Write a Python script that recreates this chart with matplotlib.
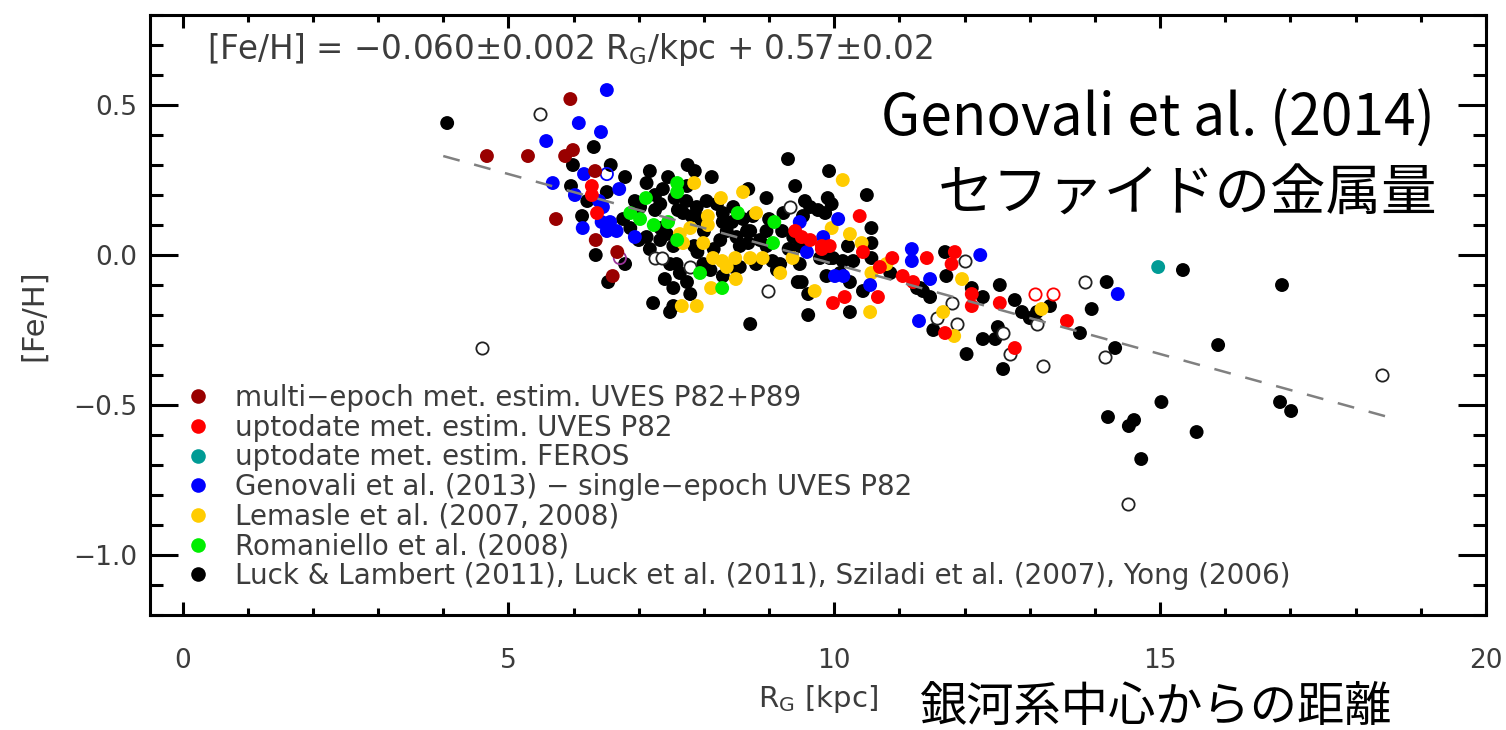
import matplotlib
matplotlib.use("Agg")
import matplotlib.pyplot as plt
from matplotlib.lines import Line2D

# --- data (R_G in kpc, [Fe/H] in dex) ---
maroon_x = [5.95, 4.67, 5.30, 5.87, 5.99, 6.33, 5.73, 6.34, 6.67, 6.60]
maroon_y = [0.52, 0.33, 0.33, 0.33, 0.35, 0.28, 0.12, 0.05, 0.01, -0.07]

red_x = [6.28, 6.28, 6.36, 10.39, 9.40, 9.50, 9.63, 9.81, 9.93, 9.81, 10.44, 10.89, 10.70, 11.05,
         11.21, 11.42, 11.85, 11.80, 10.67, 10.16, 9.98, 12.11, 12.11, 12.54, 11.70, 13.57, 12.77]
red_y = [0.23, 0.20, 0.14, 0.13, 0.08, 0.06, 0.05, 0.03, 0.03, 0.02, 0.01, -0.01, -0.04, -0.07,
         -0.09, -0.01, 0.01, -0.03, -0.14, -0.14, -0.16, -0.13, -0.17, -0.16, -0.26, -0.22, -0.31]
red_open_x = [13.08, 13.36]
red_open_y = [-0.13, -0.13]

teal_x = [14.97]
teal_y = [-0.04]

blue_x = [6.51, 6.08, 6.42, 5.58, 6.16, 5.68, 6.70, 6.02, 6.39, 6.45, 6.43, 6.56, 6.66, 6.51, 6.94,
          6.14, 9.47, 10.06, 9.83, 9.58, 10.01, 10.14, 10.55, 11.19, 11.19, 11.47, 12.24, 14.35, 11.30]
blue_y = [0.55, 0.44, 0.41, 0.38, 0.27, 0.24, 0.22, 0.20, 0.18, 0.16, 0.11, 0.11, 0.08, 0.08, 0.06,
          0.09, 0.11, 0.12, 0.06, 0.01, -0.07, -0.07, -0.10, 0.02, -0.02, -0.08, 0.00, -0.13, -0.22]
blue_open_x = [6.51]
blue_open_y = [0.27]

green_x = [6.87, 7.11, 7.02, 7.23, 7.45, 7.59, 7.59, 8.52, 9.08, 9.06, 7.94, 8.28, 7.59]
green_y = [0.14, 0.19, 0.12, 0.10, 0.11, 0.24, 0.21, 0.14, 0.11, 0.04, -0.06, -0.11, 0.05]

yellow_x = [7.85, 8.26, 8.60, 8.80, 8.06, 8.06, 7.63, 7.79, 7.99, 7.68, 8.14, 8.28, 8.35, 8.48,
            8.71, 8.90, 9.17, 9.36, 8.49, 8.11, 7.66, 7.89, 10.13, 9.96, 10.24, 10.42, 10.55, 9.70,
            11.96, 11.67, 11.84, 13.18, 10.57, 10.80]
yellow_y = [0.24, 0.19, 0.21, 0.14, 0.13, 0.10, 0.07, 0.09, 0.04, 0.04, -0.01, -0.02, -0.04, -0.01,
            -0.01, -0.01, -0.06, -0.01, -0.08, -0.11, -0.17, -0.17, 0.25, 0.09, 0.07, 0.04, -0.19, -0.12,
            -0.08, -0.19, -0.27, -0.18, -0.06, -0.03]

black_x = [4.06, 6.31, 5.99, 6.57, 6.79, 5.96, 6.51, 6.21, 6.13, 6.34, 6.79, 6.53,
           7.17, 7.12, 7.45, 7.75, 7.86, 8.12, 7.74, 7.37, 7.33, 7.25, 6.94, 7.73, 7.89, 7.68,
           7.81, 7.33, 7.12, 7.33, 7.43, 7.53, 6.87, 6.76, 7.17, 7.58, 7.63, 7.74, 7.53, 7.79,
           7.22, 7.48, 7.53, 7.99, 8.29, 8.71, 8.25, 8.35, 8.50, 8.66, 8.68, 8.86, 8.96, 8.55,
           8.96, 8.68, 9.29, 9.40, 9.17, 9.44, 8.29, 8.04, 8.29, 8.43, 8.71, 9.22, 9.20, 9.86,
           9.98, 9.78, 9.47, 8.96, 8.55, 8.45, 7.48, 9.12, 7.02, 7.55, 8.00, 8.15, 7.90, 8.60,
           9.00, 9.05, 7.60, 7.95, 8.20, 8.45, 8.75, 7.25, 7.00, 7.85, 8.10, 8.80, 9.30, 9.55,
           7.40,
           9.92, 10.50, 9.90, 9.96, 9.63, 9.75, 10.57, 10.57, 9.52, 9.37, 9.47, 9.93, 10.13,
           10.21, 10.29, 10.57, 10.09, 10.24, 9.88, 9.50, 9.60, 10.24, 9.60, 10.44, 11.36, 11.47,
           11.70, 11.72, 12.11, 12.28, 12.54, 12.77, 12.88, 13.00, 13.31, 13.77, 12.51, 12.28,
           12.47, 11.52, 12.03, 13.95, 14.18, 14.31, 13.11, 12.59, 10.86, 11.27, 11.32,
           15.35, 16.87, 15.89, 15.02, 14.20, 14.52, 14.60, 15.56, 14.71, 16.84, 17.01]
black_y = [0.44, 0.36, 0.30, 0.30, 0.26, 0.23, 0.21, 0.18, 0.13, 0.00, -0.03, -0.09,
           0.28, 0.24, 0.26, 0.30, 0.28, 0.26, 0.23, 0.22, 0.17, 0.15, 0.18, 0.18, 0.16, 0.14,
           0.13, 0.09, 0.06, 0.05, 0.07, 0.03, 0.09, 0.12, 0.02, -0.03, -0.06, -0.09, -0.11, -0.13,
           -0.16, -0.19, -0.17, -0.03, -0.07, -0.23, 0.05, 0.08, 0.06, 0.08, 0.04, 0.05, 0.08, -0.04,
           0.19, 0.22, 0.32, 0.23, -0.03, -0.09, 0.11, 0.18, 0.14, 0.11, 0.08, 0.14, 0.08, 0.14,
           -0.01, -0.01, -0.03, 0.03, 0.03, -0.04, -0.03, -0.05, 0.16, 0.19, 0.08, 0.02, 0.01, 0.12,
           0.12, -0.02, 0.15, 0.12, 0.17, 0.16, 0.13, 0.20, 0.05, 0.03, -0.05, -0.03, 0.02, 0.18,
           -0.08,
           0.28, 0.20, 0.19, 0.17, 0.16, 0.15, 0.09, 0.04, 0.13, 0.06, 0.03, -0.01, -0.02,
           0.03, -0.02, -0.01, -0.06, -0.09, -0.07, -0.09, -0.13, -0.19, -0.20, -0.12, -0.12, -0.14,
           0.01, -0.07, -0.11, -0.14, -0.10, -0.15, -0.19, -0.21, -0.17, -0.26, -0.24, -0.28,
           -0.28, -0.25, -0.33, -0.18, -0.09, -0.31, -0.19, -0.38, -0.06, -0.11, -0.11,
           -0.05, -0.10, -0.30, -0.49, -0.54, -0.57, -0.55, -0.59, -0.68, -0.49, -0.52]

open_x = [5.49, 4.59, 7.25, 7.36, 8.98, 9.32, 12.00, 11.80, 11.57, 11.88, 12.59, 13.85, 13.11,
          14.15, 12.70, 13.20, 18.40, 14.51, 7.79]
open_y = [0.47, -0.31, -0.01, -0.01, -0.12, 0.16, -0.02, -0.16, -0.21, -0.23, -0.26, -0.09, -0.23,
          -0.34, -0.33, -0.37, -0.40, -0.83, -0.04]
purple_open_x = [6.71]
purple_open_y = [-0.01]

# linear fit quoted in the panel
slope = -0.060
intercept = 0.57
fit_x = [4.0, 18.55]

legend_labels = [
    "multi\u2212epoch met. estim. UVES P82+P89",
    "uptodate met. estim. UVES P82",
    "uptodate met. estim. FEROS",
    "Genovali et al. (2013) \u2212 single\u2212epoch UVES P82",
    "Lemasle et al. (2007, 2008)",
    "Romaniello et al. (2008)",
    "Luck & Lambert (2011), Luck et al. (2011), Sziladi et al. (2007), Yong (2006)",
]
legend_colors = ["#990000", "#ff0000", "#009b95", "#0000ff", "#ffcc00", "#00ee00", "#000000"]

TXT = "#3c3c3c"
plt.rcParams["font.family"] = ["DejaVu Sans"]

fig = plt.figure(figsize=(15.06, 7.30), dpi=100)
ax = fig.add_axes([0.0996, 0.1575, 0.8871, 0.8219])

S = 100
SO = 78
ax.scatter(black_x, black_y, s=S, c="#000000", edgecolors="none", zorder=2)
ax.scatter(open_x, open_y, s=SO, facecolors="white", edgecolors="#222222", linewidths=1.3, zorder=3)
ax.scatter(purple_open_x, purple_open_y, s=SO, facecolors="none", edgecolors="#993399", linewidths=1.3, zorder=3)
ax.scatter(yellow_x, yellow_y, s=S, c=legend_colors[4], edgecolors="none", zorder=4)
ax.scatter(green_x, green_y, s=S, c=legend_colors[5], edgecolors="none", zorder=5)
ax.scatter(blue_x, blue_y, s=S, c=legend_colors[3], edgecolors="none", zorder=6)
ax.scatter(blue_open_x, blue_open_y, s=SO, facecolors="none", edgecolors=legend_colors[3], linewidths=1.3, zorder=6)
ax.scatter(teal_x, teal_y, s=S, c=legend_colors[2], edgecolors="none", zorder=6)
ax.scatter(red_x, red_y, s=S, c=legend_colors[1], edgecolors="none", zorder=7)
ax.scatter(red_open_x, red_open_y, s=SO, facecolors="white", edgecolors=legend_colors[1], linewidths=1.3, zorder=7)
ax.scatter(maroon_x, maroon_y, s=S, c=legend_colors[0], edgecolors="none", zorder=8)

fit_y = [slope * v + intercept for v in fit_x]
ax.plot(fit_x, fit_y, color="#808080", lw=1.8, linestyle=(0, (6.8, 6.0)), zorder=9)

ax.set_xlim(-0.5, 20)
ax.set_ylim(-1.2, 0.8)
ax.set_xticks([0, 5, 10, 15, 20])
ax.set_xticks(range(0, 21), minor=True)
ax.set_yticks([-1.0, -0.5, 0.0, 0.5])
ax.set_yticklabels(["\u22121.0", "\u22120.5", "0.0", "0.5"])
ax.set_yticks([v / 10 for v in range(-12, 9)], minor=True)

for sp in ax.spines.values():
    sp.set_linewidth(2.2)
ax.tick_params(which="both", direction="in", top=True, right=True, width=2.2, colors="black",
               labelcolor=TXT, labelsize=19)
ax.tick_params(axis="x", which="major", length=9.5, pad=24)
ax.tick_params(axis="x", which="minor", length=5)
ax.tick_params(axis="y", which="major", length=20, pad=9)
ax.tick_params(axis="y", which="minor", length=9.5)

ax.set_xlabel(r"R$_\mathregular{G}$ [kpc]", fontsize=21, color=TXT, labelpad=6)
ax.set_ylabel("[Fe/H]", fontsize=22, color=TXT, labelpad=18)

ax.text(0.0427, 0.942, r"[Fe/H] = $-$0.060$\pm$0.002 R$_\mathregular{G}$/kpc + 0.57$\pm$0.02",
        transform=ax.transAxes, fontsize=23.5, color=TXT, va="center", ha="left")

handles = [Line2D([], [], marker="o", linestyle="none", markersize=10.5, markerfacecolor=c,
                  markeredgecolor="none") for c in legend_colors]
leg = ax.legend(handles, legend_labels, loc="upper left", bbox_to_anchor=(0.0273, 0.385),
                frameon=False, fontsize=20, handlelength=0.8, handletextpad=0.95,
                labelspacing=0.06, borderpad=0, borderaxespad=0)
for t in leg.get_texts():
    t.set_color(TXT)

jp = ["Noto Sans CJK JP", "DejaVu Sans"]
fig.text(0.953, 0.836, "Genovali et al. (2014)", ha="right", va="center", fontsize=41,
         family=jp, color="black")
fig.text(0.954, 0.733, "セファイドの金属量", ha="right", va="center", fontsize=40,
         family=jp, color="black")
fig.text(0.611, 0.030, "銀河系中心からの距離", ha="left", va="center", fontsize=34,
         family=jp, color="black")

fig.savefig("out.png", dpi=100)
